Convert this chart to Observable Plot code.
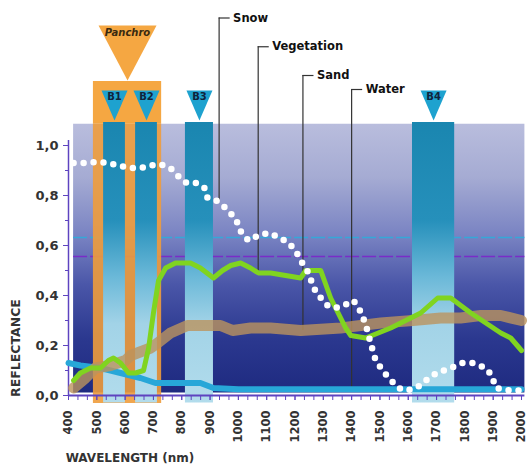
<!DOCTYPE html>
<html><head><meta charset="utf-8">
<script src="https://cdn.jsdelivr.net/npm/d3@7"></script>
<script src="https://cdn.jsdelivr.net/npm/@observablehq/plot@0.6"></script>
<style>body{margin:0;background:#fff}</style>
</head><body><div id="chart"></div>
<script>
// ---- data ----
const snowWavelength = [418,471,506,541,577,616,654,690,725,760,785,817,852,880,891,922,955,980,997,1011,1036,1071,1107,1149,1177,1202,1220,1248,1266,1291,1315,1340,1372,1407,1435,1453,1467,1485,1510,1531,1566,1591,1630,1662,1700,1750,1792,1828,1874,1895,1909,1962,2000];
const snowReflectance = [.93,.93,.935,.93,.92,.91,.91,.92,.925,.91,.88,.85,.85,.83,.79,.78,.75,.72,.69,.65,.62,.64,.65,.63,.61,.58,.54,.49,.43,.39,.36,.35,.36,.38,.33,.27,.21,.14,.10,.07,.03,.02,.03,.06,.09,.11,.13,.13,.11,.08,.03,.02,.02];
const vegWavelength = [418,442,478,513,541,559,584,612,637,665,683,700,718,743,778,831,866,912,944,973,1008,1043,1071,1114,1220,1238,1291,1326,1379,1397,1450,1538,1644,1704,1750,1821,1927,1962,2000];
const vegReflectance = [.06,.09,.11,.11,.14,.15,.13,.09,.09,.10,.19,.33,.46,.51,.53,.53,.51,.47,.50,.52,.53,.51,.49,.49,.47,.50,.50,.39,.27,.24,.23,.27,.33,.39,.39,.33,.25,.23,.18];
const sandWavelength = [418,460,495,548,601,620,690,715,760,820,866,937,980,1043,1114,1220,1361,1503,1616,1715,1785,1856,1927,2000];
const sandReflectance = [.03,.07,.11,.12,.14,.16,.19,.21,.25,.28,.28,.28,.26,.27,.27,.26,.27,.29,.30,.31,.31,.32,.32,.30];
const waterWavelength = [400,442,513,584,654,707,813,866,912,1000,1300,1600,2000];
const waterReflectance = [.13,.12,.11,.09,.07,.05,.05,.05,.03,.025,.025,.025,.025];

const bandNames = ["B1","B2","B3","B4"];
const bandStart = [524,637,813,1615];
const bandEnd   = [601,714,912,1764];
const panchroName = "Panchro";
const panchroStart = 488, panchroEnd = 729;

const labelNames = ["Snow","Vegetation","Sand","Water"];
const labelWavelength = [932,1070,1228,1400];
const labelLevel = [1.51,1.395,1.28,1.224];
const labelEnd = [0.78,0.49,0.26,0.03];

const refLevels = [0.632, 0.556];
const yTicks = [0,0.2,0.4,0.6,0.8,1.0];
const yMinor = [0.1,0.3,0.5,0.7,0.9];
const xTicks = d3.range(400,2001,100);
const xMinor = d3.range(0,49).map(i => 400 + i*100/3);

// ---- tables ----
const zipT = (xs, ys) => xs.map((x,i) => ({x, y: ys[i]}));
const snow = zipT(snowWavelength, snowReflectance);
const veg = zipT(vegWavelength, vegReflectance);
const sand = zipT(sandWavelength, sandReflectance);
const water = zipT(waterWavelength, waterReflectance);
const bands = bandNames.map((n,i) => ({name:n, x1:bandStart[i], x2:bandEnd[i], c:(bandStart[i]+bandEnd[i])/2}));
const panchro = [{name: panchroName, x1: panchroStart, x2: panchroEnd, c: (panchroStart+panchroEnd)/2}];
const labels = labelNames.map((n,i) => ({name:n, x:labelWavelength[i], lv:labelLevel[i], end:labelEnd[i]}));

const triSym = ratio => ({draw(ctx, size){ const r = Math.sqrt(size/Math.PI); const h = r*ratio;
  ctx.moveTo(-r,-h); ctx.lineTo(r,-h); ctx.lineTo(0,h); ctx.closePath(); }});

const axisColor = "#5e44c0";
const textColor = "#333";

const chart = Plot.plot({
  width: 531, height: 468,
  marginLeft: 68, marginRight: 10, marginTop: 145, marginBottom: 73,
  x: {domain: [400,2000], axis: null},
  y: {domain: [0,1], axis: null},
  style: {fontFamily: "DejaVu Sans", fontWeight: "bold", background: "#fff", overflow: "visible"},
  marks: [
    // background panel
    Plot.rect([0], {x1: 418, x2: 2012, y1: 0.01, y2: 1.085, fill: "url(#bgGrad)"}),
    Plot.ruleY(refLevels, {x1: 418, x2: 2012, stroke: (d,i) => i===0 ? "#35a8d8" : "#7a2cc8", strokeWidth: 1.3, strokeDasharray: "14,3"}),
    // panchromatic band
    Plot.rect(panchro, {x1: "x1", x2: "x2", y1: 1.085, y2: 1.256, fill: "#f5a742"}),
    Plot.rect(panchro, {x1: "x1", x2: "x2", y1: -0.032, y2: 1.085, fill: "#ee9c3c", fillOpacity: 0.9}),
    Plot.dot(panchro, {x: "c", y: 1.37, r: 29, symbol: triSym(0.95), fill: "#f5a742", stroke: null}),
    Plot.text(panchro, {x: "c", y: 1.45, text: "name", fill: "#3a2a10", fontSize: 10, fontStyle: "italic"}),
    // spectral bands
    Plot.rect(bands, {x1: "x1", x2: "x2", y1: -0.03, y2: 1.092, fill: "url(#bandGrad)"}),
    Plot.dot(bands, {x: "c", y: 1.16, r: 13, symbol: triSym(1.15), fill: "#1ea2cf", stroke: null}),
    Plot.text(bands, {x: "c", y: 1.195, text: "name", fill: "#10243c", fontSize: 10}),
    // axes lines
    Plot.ruleY([0], {x1: 400, x2: 2012, stroke: axisColor, strokeWidth: 2}),
    Plot.ruleX([400], {y1: 0, y2: 1.02, stroke: axisColor, strokeWidth: 1.5}),
    Plot.axisY({ticks: yTicks, tickSize: 5, tickPadding: 5, stroke: axisColor, fill: textColor, fontSize: 13,
      tickFormat: d => d.toFixed(1).replace(".", ","), label: null}),
    Plot.axisY({ticks: yMinor, tickSize: 3, stroke: axisColor, tickFormat: () => "", label: null}),
    Plot.axisX({ticks: xMinor, tickSize: 5, stroke: axisColor, tickFormat: () => "", label: null}),
    Plot.axisX({ticks: xTicks, tickSize: 5, tickPadding: 10, tickRotate: -90, stroke: axisColor, fill: textColor, fontSize: 11.5,
      tickFormat: d => String(d), label: null}),
    Plot.text(["REFLECTANCE"], {x: 400, y: 0.19, dx: -53, rotate: -90, text: d => d, fill: textColor, fontSize: 12.5}),
    Plot.text(["WAVELENGTH (nm)"], {x: 390, y: -0.252, text: d => d, textAnchor: "start", fill: textColor, fontSize: 12}),
    // leaders
    Plot.ruleX(labels, {x: "x", y1: "lv", y2: "end", stroke: "#333", strokeWidth: 1.2}),
    Plot.ruleY(labels, {y: "lv", x1: "x", x2: d => d.x + 39, stroke: "#333", strokeWidth: 1.2}),
    Plot.text(labels, {x: "x", y: "lv", dx: 14, text: "name", textAnchor: "start", fill: "#111", fontSize: 11.5}),
    // curves
    Plot.line(water, {x: "x", y: "y", stroke: "#27a7d8", strokeWidth: 6}),
    Plot.line(sand, {x: "x", y: "y", stroke: "#bb935e", strokeWidth: 11, strokeOpacity: 0.8}),
    Plot.line(veg, {x: "x", y: "y", stroke: "#80d420", strokeWidth: 5}),
    Plot.line(snow, {x: "x", y: "y", stroke: "#fff", strokeWidth: 6.5, strokeDasharray: "0,10", strokeLinecap: "round"})
  ]
});

// gradients
const svg = d3.select(chart);
const defs = svg.insert("defs", ":first-child");
const bg = defs.append("linearGradient").attr("id","bgGrad").attr("x1",0).attr("y1",0).attr("x2",0).attr("y2",1);
[[0,"#b9bddd"],[0.2,"#a5abd3"],[0.42,"#7882c2"],[0.6,"#4a56a8"],[0.8,"#2b388f"],[1,"#1e2a80"]]
  .forEach(([o,c]) => bg.append("stop").attr("offset",o).attr("stop-color",c));
const bd = defs.append("linearGradient").attr("id","bandGrad").attr("x1",0).attr("y1",0).attr("x2",0).attr("y2",1);
[[0,"#1a86b0"],[0.35,"#2690bb"],[0.55,"#6ab8d8"],[0.72,"#a2d3e7"],[1,"#b2dcec"]]
  .forEach(([o,c]) => bd.append("stop").attr("offset",o).attr("stop-color",c));

document.getElementById("chart").appendChild(chart);
</script>
</body></html>
